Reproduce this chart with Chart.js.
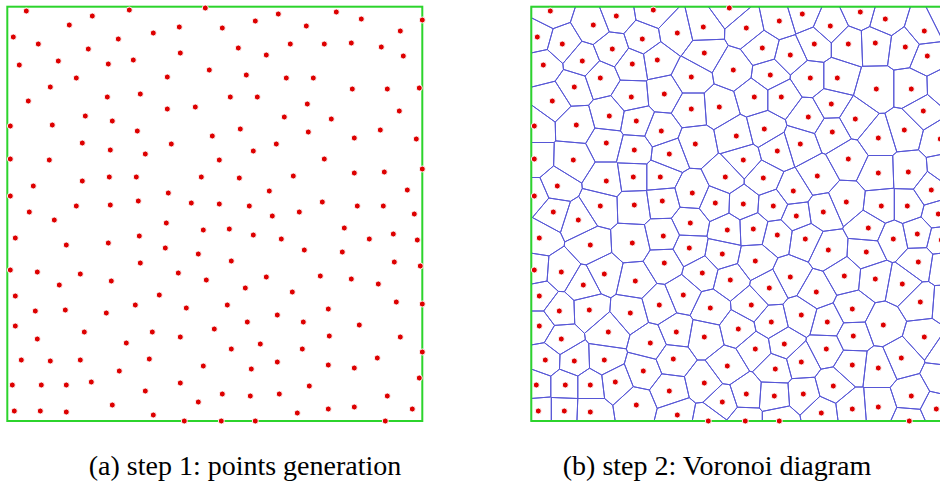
<!DOCTYPE html>
<html>
<head>
<meta charset="utf-8">
<script src="https://cdn.jsdelivr.net/npm/chart.js@4.4.1/dist/chart.umd.min.js"></script>
<style>
  html, body { margin: 0; padding: 0; background: #fff; overflow: hidden; width: 940px; height: 484px; }
  .panel { position: absolute; top: 0; width: 432px; height: 432px; }
  .cap {
    position: absolute; top: 450px; line-height: 32px;
    font-family: 'Liberation Serif', 'Times New Roman', serif; font-size: 28px;
    white-space: nowrap; transform: translateX(-50%); color: #000;
  }
</style>
</head>
<body>
<div class="panel" style="left:0"><canvas id="pts" width="432" height="432"></canvas></div>
<div class="panel" style="left:524px"><canvas id="vor" width="432" height="432"></canvas></div>
<div class="cap" style="left:245px">(a) step 1: points generation</div>
<div class="cap" style="left:717px">(b) step 2: Voronoi diagram</div>
<script>
// Domain of the sampling square
const domainW = 415;
const domainH = 414.3;

// Generated sites (x to the right, y upward)
const siteX = [
  19, 122, 85, 62, 6, 31, 111, 81, 12, 51, 101, 126, 69, 43, 21, 100, 133, 78, 105, 3, 45, 130, 75,
  198, 271, 248, 172, 215, 146, 283, 231, 259, 173, 202, 160, 239, 279, 223, 250, 160, 188, 277, 233, 205, 164, 269,
  329, 354, 299, 415, 393, 317, 344, 374, 396, 306, 345, 380, 412, 300, 392, 324, 301, 373, 347, 409,
  103, 138, 3, 42, 75, 102, 129, 26, 3, 69, 103, 131, 22, 47, 8, 59, 101, 132, 3, 30, 73, 133, 52, 104,
  246, 212, 194, 232, 161, 262, 184, 212, 242, 265, 159, 196, 222, 246, 274, 158, 191, 224, 171, 199, 259, 238,
  317, 286, 347, 377, 415, 400, 315, 292, 350, 376, 407, 337, 362, 386, 410, 297, 335, 387, 413, 313, 344, 371,
  8, 28, 58, 99, 128, 8, 30, 77, 119, 14, 43, 73, 112, 5, 34, 59, 84, 138, 7, 33, 59, 105,
  152, 179, 220, 270, 240, 145, 173, 207, 253, 224, 142, 196, 244, 270, 173, 215, 243, 272, 191, 146, 177, 214, 248,
  285, 389, 415, 321, 296, 352, 322, 393, 295, 415, 370, 321, 347, 412, 302, 380, 290, 321, 347, 405, 378
];
const siteY = [
  410, 411, 405, 396, 384, 377, 382, 372, 356, 360, 357, 361, 343, 334, 320, 324, 327, 305, 300, 295, 296, 290, 278,
  413, 407, 400, 394, 393, 388, 377, 373, 366, 368, 351, 344, 346, 343, 324, 324, 312, 314, 304, 292, 285, 277, 277,
  409, 402, 395, 401, 390, 377, 378, 374, 365, 343, 332, 332, 333, 317, 310, 302, 289, 291, 283, 282,
  271, 267, 262, 261, 240, 244, 244, 235, 225, 215, 216, 220, 209, 201, 183, 176, 178, 185, 151, 149, 147, 158, 136, 140,
  270, 261, 244, 243, 228, 230, 218, 217, 215, 205, 198, 191, 192, 186, 182, 173, 167, 160, 148, 141, 144, 133,
  262, 245, 248, 249, 252, 231, 219, 209, 215, 215, 207, 193, 182, 187, 181, 171, 169, 159, 155, 145, 142, 137,
  125, 110, 111, 108, 116, 95, 82, 89, 78, 61, 60, 61, 50, 36, 36, 36, 39, 30, 10, 10, 9, 16,
  126, 113, 116, 106, 99, 89, 84, 92, 77, 72, 62, 55, 52, 59, 38, 27, 25, 27, 19, 6, 0, 0, 0,
  129, 119, 117, 112, 99, 96, 85, 84, 72, 69, 63, 56, 53, 43, 35, 25, 8, 12, 14, 12, 0
];

const sites = siteX.map((x, i) => ({ x: x, y: siteY[i] }));

// Voronoi cell of one site: the square clipped by every bisector half-plane
function voronoiCell(i) {
  let poly = [[0, 0], [domainW, 0], [domainW, domainH], [0, domainH]];
  const ax = siteX[i], ay = siteY[i];
  for (let j = 0; j < siteX.length && poly.length; j++) {
    if (j === i) continue;
    const bx = siteX[j], by = siteY[j];
    const dx = bx - ax, dy = by - ay;
    if (dx === 0 && dy === 0) continue;
    const mx = (ax + bx) / 2, my = (ay + by) / 2;
    const f = p => (p[0] - mx) * dx + (p[1] - my) * dy;
    const out = [];
    for (let k = 0; k < poly.length; k++) {
      const p = poly[k], q = poly[(k + 1) % poly.length];
      const fp = f(p), fq = f(q);
      if (fp <= 0) out.push(p);
      if ((fp < 0 && fq > 0) || (fp > 0 && fq < 0)) {
        const t = fp / (fp - fq);
        out.push([p[0] + t * (q[0] - p[0]), p[1] + t * (q[1] - p[1])]);
      }
    }
    poly = out;
  }
  return poly;
}
const cells = siteX.map((_, i) => voronoiCell(i));

// Green square outline of the domain
const framePlugin = {
  id: 'frame',
  beforeDatasetsDraw(chart) {
    const { ctx, chartArea: a } = chart;
    ctx.save();
    ctx.strokeStyle = '#2cd42c';
    ctx.lineWidth = 2;
    ctx.strokeRect(a.left, a.top, a.right - a.left, a.bottom - a.top);
    ctx.restore();
  }
};

// Voronoi edges, mapped through the chart scales
const voronoiPlugin = {
  id: 'voronoi',
  beforeDatasetsDraw(chart) {
    const { ctx, scales } = chart;
    ctx.save();
    ctx.strokeStyle = '#5656d6';
    ctx.lineWidth = 1;
    ctx.lineJoin = 'round';
    cells.forEach(poly => {
      if (poly.length < 3) return;
      ctx.beginPath();
      poly.forEach((p, k) => {
        const px = scales.x.getPixelForValue(p[0]);
        const py = scales.y.getPixelForValue(p[1]);
        if (k === 0) ctx.moveTo(px, py); else ctx.lineTo(px, py);
      });
      ctx.closePath();
      ctx.stroke();
    });
    ctx.restore();
  }
};

function makeChart(id, plugins) {
  return new Chart(document.getElementById(id), {
    type: 'scatter',
    data: {
      datasets: [{
        data: sites,
        clip: false,
        pointRadius: 3,
        pointBackgroundColor: '#dd0000',
        pointBorderColor: 'rgba(255,255,255,0.9)',
        pointBorderWidth: 1,
        pointHoverRadius: 3
      }]
    },
    options: {
      responsive: false,
      animation: false,
      events: [],
      layout: { padding: { left: 7.3, right: 9.7, top: 6.7, bottom: 11 } },
      plugins: { legend: { display: false }, tooltip: { enabled: false } },
      scales: {
        x: { type: 'linear', min: 0, max: domainW, display: false },
        y: { type: 'linear', min: 0, max: domainH, display: false }
      }
    },
    plugins: plugins
  });
}

makeChart('pts', [framePlugin]);
makeChart('vor', [voronoiPlugin, framePlugin]);
</script>
</body>
</html>
